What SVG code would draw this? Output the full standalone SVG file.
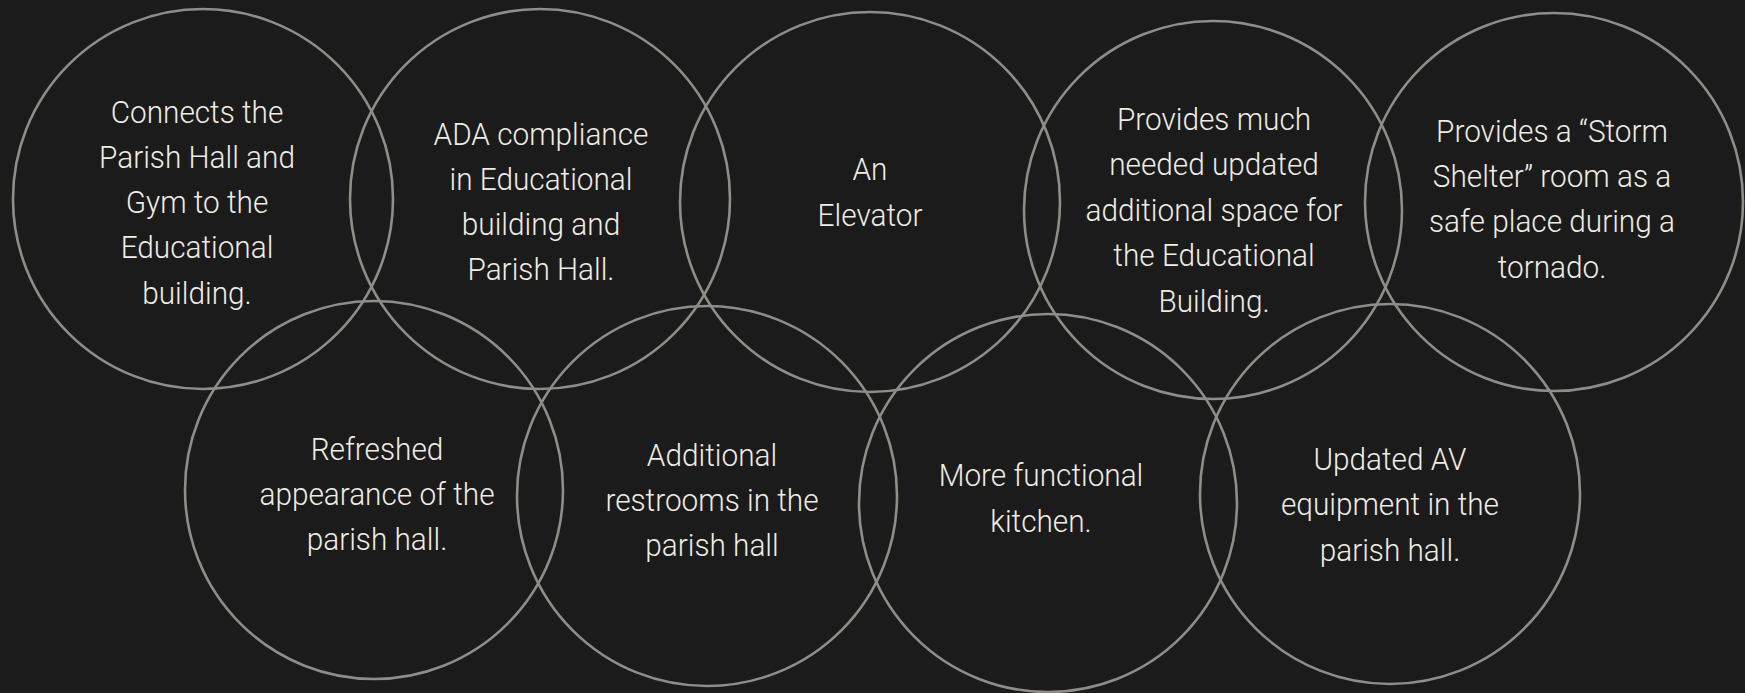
<svg xmlns="http://www.w3.org/2000/svg" width="1745" height="693" viewBox="0 0 1745 693">
<style>
.c{fill:none;stroke:#8e8d88;stroke-width:2.6}
.t{font-family:Roboto,"Liberation Sans",sans-serif;font-weight:300;font-size:31.5px;fill:#efece4;text-anchor:middle}
</style>
<rect width="1745" height="693" fill="#1b1b1b"/>
<g id="connectors"/>
<g id="n1"><circle class="c" cx="203" cy="199" r="190"/>
<text class="t" transform="matrix(0.945 0 0 1 10.835 0)"><tspan x="197" y="123">Connects the</tspan><tspan x="197" y="168">Parish Hall and</tspan><tspan x="197" y="213">Gym to the</tspan><tspan x="197" y="258">Educational</tspan><tspan x="197" y="304">building.</tspan></text></g>
<g id="n2"><circle class="c" cx="540" cy="199" r="190"/>
<text class="t" transform="matrix(0.945 0 0 1 29.755 0)"><tspan x="541" y="145">ADA compliance</tspan><tspan x="541" y="190">in Educational</tspan><tspan x="541" y="235">building and</tspan><tspan x="541" y="280">Parish Hall.</tspan></text></g>
<g id="n3"><circle class="c" cx="870" cy="202" r="190"/>
<text class="t" transform="matrix(0.945 0 0 1 47.85 0)"><tspan x="870" y="180">An</tspan><tspan x="870" y="226">Elevator</tspan></text></g>
<g id="n4"><circle class="c" cx="1213" cy="210" r="189"/>
<text class="t" transform="matrix(0.945 0 0 1 66.77 0)"><tspan x="1214" y="130">Provides much</tspan><tspan x="1214" y="175.5">needed updated</tspan><tspan x="1214" y="221">additional space for</tspan><tspan x="1214" y="266.5">the Educational</tspan><tspan x="1214" y="312">Building.</tspan></text></g>
<g id="n5"><circle class="c" cx="1554" cy="202" r="189"/>
<text class="t" transform="matrix(0.945 0 0 1 85.36 0)"><tspan x="1552" y="142">Provides a “Storm</tspan><tspan x="1552" y="187">Shelter” room as a</tspan><tspan x="1552" y="232.5">safe place during a</tspan><tspan x="1552" y="278">tornado.</tspan></text></g>
<g id="n6"><circle class="c" cx="374" cy="490" r="189"/>
<text class="t" transform="matrix(0.945 0 0 1 20.735 0)"><tspan x="377" y="460">Refreshed</tspan><tspan x="377" y="505">appearance of the</tspan><tspan x="377" y="550">parish hall.</tspan></text></g>
<g id="n7"><circle class="c" cx="707" cy="496" r="190"/>
<text class="t" transform="matrix(0.945 0 0 1 39.16 0)"><tspan x="712" y="466">Additional</tspan><tspan x="712" y="511">restrooms in the</tspan><tspan x="712" y="556">parish hall</tspan></text></g>
<g id="n8"><circle class="c" cx="1048" cy="503" r="189"/>
<text class="t" transform="matrix(0.945 0 0 1 57.255 0)"><tspan x="1041" y="486">More functional</tspan><tspan x="1041" y="532">kitchen.</tspan></text></g>
<g id="n9"><circle class="c" cx="1390" cy="494" r="190"/>
<text class="t" transform="matrix(0.945 0 0 1 76.45 0)"><tspan x="1390" y="470">Updated AV</tspan><tspan x="1390" y="515">equipment in the</tspan><tspan x="1390" y="561">parish hall.</tspan></text></g>
</svg>
